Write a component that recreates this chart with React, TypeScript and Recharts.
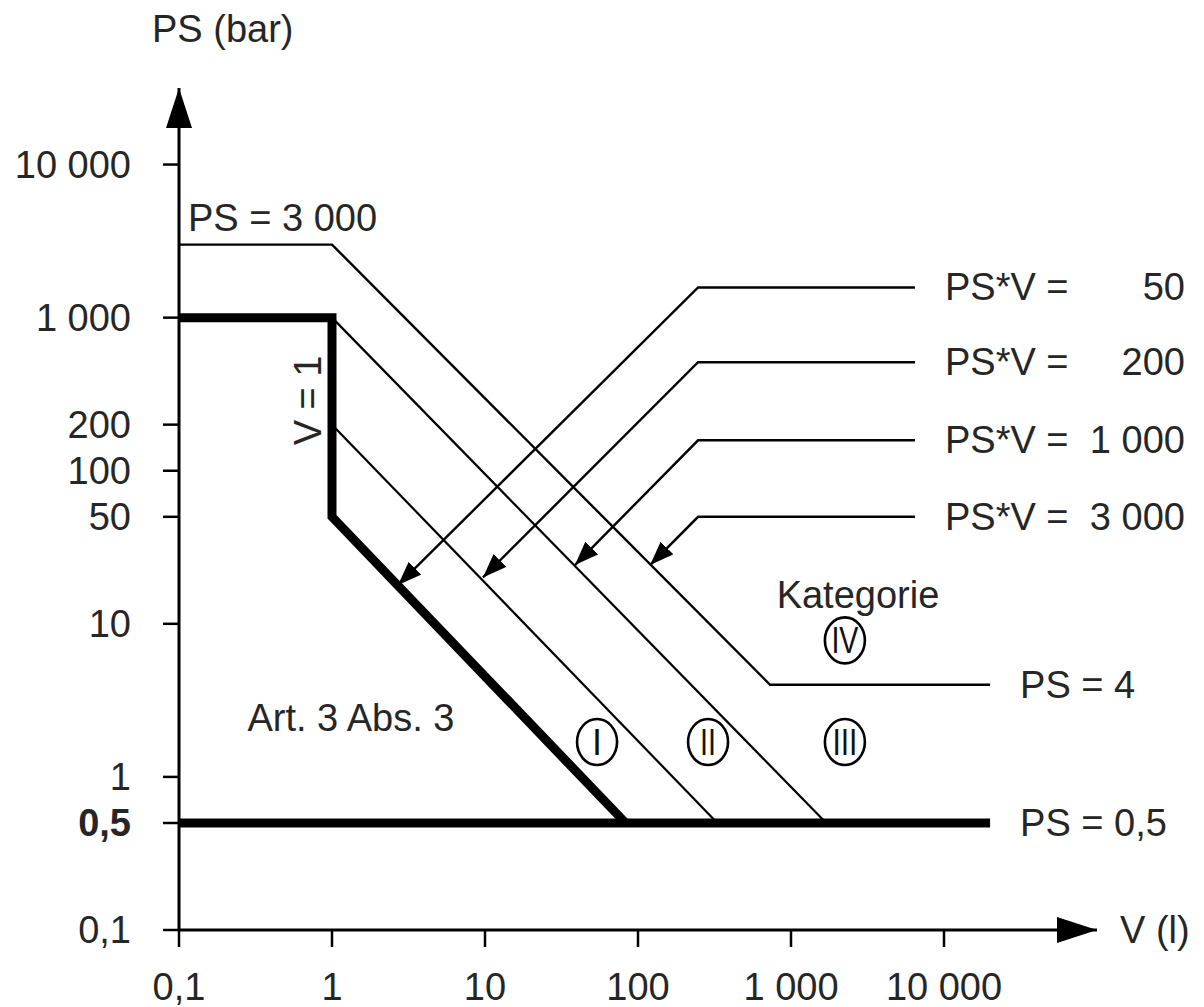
import { LineChart, Line, XAxis, YAxis, ReferenceDot } from 'recharts';

// axis ticks (log scales)
const volumeTicks = [0.1, 1, 10, 100, 1000, 10000];
const volumeTickLabels = ['0,1', '1', '10', '100', '1 000', '10 000'];
const pressureTicks = [0.1, 0.5, 1, 10, 50, 100, 200, 1000, 10000];
const pressureTickLabels = ['0,1', '0,5', '1', '10', '50', '100', '200', '1 000', '10 000'];

// boundary lines
const boundaryThick = [
  { v: 0.1, ps: 1000 },
  { v: 1, ps: 1000 },
  { v: 1, ps: 50 },
  { v: 83, ps: 0.5 }
];
const ps05Line = [
  { v: 0.1, ps: 0.5 },
  { v: 20000, ps: 0.5 }
];
const psv200Line = [
  { v: 1, ps: 200 },
  { v: 330, ps: 0.5 }
];
const psv1000Line = [
  { v: 1, ps: 1000 },
  { v: 1700, ps: 0.5 }
];
const ps3000Line = [
  { v: 0.1, ps: 3000 },
  { v: 1, ps: 3000 },
  { v: 730, ps: 4 },
  { v: 20000, ps: 4 }
];

// leader lines for the PS*V labels
const leaderLabels = ['50', '200', '1 000', '3 000'];
const leaderRowPs = [1574, 511, 158, 50];
const leaderTipV = [2.7, 9.7, 38.7, 120];
const leaderTipPs = [17.9, 20.1, 24.2, 24.2];
const leaderElbowV = 247;
const leaderEndV = 6460;

// category marks
const categoryNames = ['I', 'II', 'III', 'IV'];
const categoryV = [54, 287, 2250, 2250];
const categoryPs = [1.69, 1.69, 1.69, 7.8];

const FONT = '"Liberation Sans", Arial, sans-serif';
const INK = '#262626';
const FS = 38;

const leaders = leaderLabels.map((_, i) => [
  { v: leaderEndV, ps: leaderRowPs[i] },
  { v: leaderElbowV, ps: leaderRowPs[i] },
  { v: leaderTipV[i], ps: leaderTipPs[i] }
]);

function PressureTick(props: any) {
  const { x, y, payload } = props;
  const i = pressureTicks.indexOf(payload.value);
  return (
    <text x={x} y={y} dy="0.355em" textAnchor="end" fontSize={FS} fontFamily={FONT} fill={INK}
      fontWeight={payload.value === 0.5 ? 'bold' : 'normal'}>
      {pressureTickLabels[i]}
    </text>
  );
}

const textAt = (label: string, dx: number, dy: number, anchor = 'start', rotate = 0) => (p: any) => (
  <text x={p.cx + dx} y={p.cy + dy} textAnchor={anchor} fontSize={FS} fontFamily={FONT} fill={INK}
    transform={rotate ? `rotate(${rotate} ${p.cx + dx} ${p.cy + dy})` : undefined}>
    {label}
  </text>
);

const psvLabel = (value: string) => (p: any) => (
  <g fontSize={FS} fontFamily={FONT} fill={INK}>
    <text x={p.cx + 30} y={p.cy + 13}>PS*V =</text>
    <text x={p.cx + 270} y={p.cy + 13} textAnchor="end">{value}</text>
  </g>
);

const numeralWidth: Record<string, number> = { I: 0, II: 16, III: 25, IV: 27 };

const circledMark = (name: string) => (p: any) => (
  <g>
    <ellipse cx={p.cx} cy={p.cy} rx={20} ry={23} fill="#fff" stroke="#000" strokeWidth={2.6} />
    <text x={p.cx} y={p.cy + 13} textAnchor="middle" fontSize={36} fontFamily={FONT} fill="#111"
      textLength={numeralWidth[name] || undefined} lengthAdjust="spacingAndGlyphs">
      {name}
    </text>
  </g>
);

export default function App() {
  const lineCommon = { type: 'linear' as const, dataKey: 'ps', stroke: '#000', dot: false, activeDot: false, isAnimationActive: false };
  return (
    <div>
      <style>{'body{margin:0;background:#fff}'}</style>
      <svg width={0} height={0} style={{ position: 'absolute' }}>
        <defs>
          <marker id="axisArrow" markerUnits="userSpaceOnUse" markerWidth={40} markerHeight={26}
            refX={40} refY={13} orient="auto-start-reverse">
            <path d="M0,0 L40,13 L0,26 Z" fill="#000" />
          </marker>
          <marker id="leaderArrow" markerUnits="userSpaceOnUse" markerWidth={24} markerHeight={18}
            refX={24} refY={9} orient="auto">
            <path d="M0,0 L24,9 L0,18 Z" fill="#000" />
          </marker>
        </defs>
      </svg>
      <LineChart width={1204} height={1007} margin={{ top: 88, right: 107, left: 0, bottom: 0 }}>
        <XAxis dataKey="v" type="number" scale="log" domain={[0.1, 100000]} allowDataOverflow
          ticks={volumeTicks} interval={0} height={77}
          tickFormatter={(t: number) => volumeTickLabels[volumeTicks.indexOf(t)]}
          tickSize={17} tickMargin={26}
          tick={{ fontSize: FS, fontFamily: FONT, fill: INK }}
          tickLine={{ stroke: '#000', strokeWidth: 2.5 }}
          axisLine={{ stroke: '#000', strokeWidth: 3, markerEnd: 'url(#axisArrow)' }}
          label={(p: any) => {
            const vb = p.viewBox;
            return <text x={vb.x + vb.width + 23} y={vb.y + 13} fontSize={FS} fontFamily={FONT} fill={INK}>V (l)</text>;
          }}
        />
        <YAxis dataKey="ps" type="number" scale="log" domain={[0.1, 31623]} allowDataOverflow
          ticks={pressureTicks} interval={0} width={179}
          tick={<PressureTick />} tickSize={16} tickMargin={32}
          tickLine={{ stroke: '#000', strokeWidth: 2.5 }}
          axisLine={{ stroke: '#000', strokeWidth: 3, markerStart: 'url(#axisArrow)' }}
          label={(p: any) => {
            const vb = p.viewBox;
            return <text x={vb.x + vb.width - 27} y={vb.y - 46} fontSize={FS} fontFamily={FONT} fill={INK}>PS (bar)</text>;
          }}
        />

        <Line {...lineCommon} data={psv200Line} strokeWidth={2.2} />
        <Line {...lineCommon} data={psv1000Line} strokeWidth={2.2} />
        <Line {...lineCommon} data={ps3000Line} strokeWidth={2.4} />
        {leaders.map((d, i) => (
          <Line key={i} {...lineCommon} data={d} strokeWidth={2.4} markerEnd="url(#leaderArrow)" />
        ))}
        <Line {...lineCommon} data={ps05Line} strokeWidth={9} />
        <Line {...lineCommon} data={boundaryThick} strokeWidth={9} strokeLinejoin="miter" />

        {leaderLabels.map((lab, i) => (
          <ReferenceDot key={'l' + i} x={leaderEndV} y={leaderRowPs[i]} r={0} ifOverflow="visible" shape={psvLabel(lab)} />
        ))}
        <ReferenceDot x={0.1} y={3000} r={0} ifOverflow="visible" shape={textAt('PS = 3 000', 9, -14)} />
        <ReferenceDot x={20000} y={4} r={0} ifOverflow="visible" shape={textAt('PS = 4', 30, 13)} />
        <ReferenceDot x={20000} y={0.5} r={0} ifOverflow="visible" shape={textAt('PS = 0,5', 30, 13)} />
        <ReferenceDot x={0.7} y={288} r={0} ifOverflow="visible" shape={textAt('V = 1', 13, 0, 'middle', -90)} />
        <ReferenceDot x={1.33} y={2.42} r={0} ifOverflow="visible" shape={textAt('Art. 3 Abs. 3', 0, 13, 'middle')} />
        <ReferenceDot x={2740} y={15.4} r={0} ifOverflow="visible" shape={textAt('Kategorie', 0, 13, 'middle')} />
        {categoryNames.map((n, i) => (
          <ReferenceDot key={'c' + i} x={categoryV[i]} y={categoryPs[i]} r={0} ifOverflow="visible" shape={circledMark(n)} />
        ))}
      </LineChart>
    </div>
  );
}
